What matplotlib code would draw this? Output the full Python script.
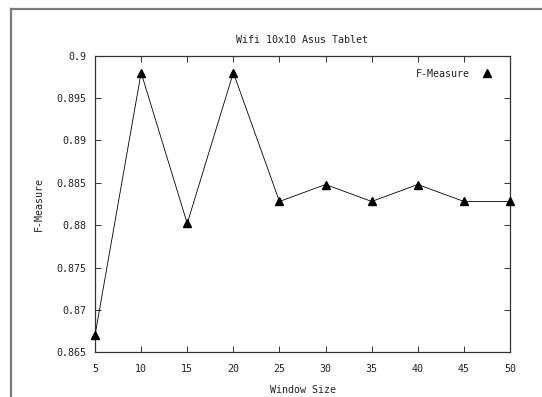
import matplotlib
matplotlib.use("Agg")
import matplotlib.pyplot as plt
from matplotlib.lines import Line2D

window_size = [5, 10, 15, 20, 25, 30, 35, 40, 45, 50]
f_measure = [0.867, 0.898, 0.8802, 0.898, 0.8828, 0.8848, 0.8828, 0.8848, 0.8828, 0.8828]
y_ticks = [0.865, 0.87, 0.875, 0.88, 0.885, 0.89, 0.895, 0.9]
y_tick_labels = ["0.865", "0.87", "0.875", "0.88", "0.885", "0.89", "0.895", "0.9"]
x_ticks = [5, 10, 15, 20, 25, 30, 35, 40, 45, 50]

plt.rcParams['font.family'] = ['DejaVu Sans Mono']
FS = 7.2
TXT = '#222222'

W, H = 542, 397
fig = plt.figure(figsize=(W / 100, H / 100), dpi=100)

# outer window frame (left and top edges)
fig.add_artist(Line2D([11 / W, 11 / W], [0, 1 - 9 / H], transform=fig.transFigure,
                      color='#7a7a7a', lw=1.6))
fig.add_artist(Line2D([11 / W, 1], [1 - 9 / H, 1 - 9 / H], transform=fig.transFigure,
                      color='#7a7a7a', lw=1.6))

ax = fig.add_axes([95 / W, 1 - 352.3 / H, (510 - 95) / W, (352.3 - 55.7) / H])
ax.plot(window_size, f_measure, color='black', lw=0.6, marker='^', markersize=6,
        markerfacecolor='black', markeredgecolor='black', clip_on=False, zorder=3)

ax.set_xlim(5, 50)
ax.set_ylim(0.865, 0.9)
ax.set_xticks(x_ticks)
ax.set_xticklabels([str(v) for v in x_ticks])
ax.set_yticks(y_ticks)
ax.set_yticklabels(y_tick_labels)
ax.tick_params(direction='in', length=4, width=0.7, top=True, right=True,
               labelsize=FS, labelcolor=TXT, color='#333333')
ax.tick_params(axis='x', pad=8.5)
ax.tick_params(axis='y', pad=6)
for s in ax.spines.values():
    s.set_color('#333333')
    s.set_linewidth(0.9)

ax.set_title('Wifi 10x10 Asus Tablet', fontsize=FS, color=TXT, pad=9)
ax.set_xlabel('Window Size', fontsize=FS, color=TXT, labelpad=8)
ax.set_ylabel('F-Measure', fontsize=FS, color=TXT, labelpad=9)

proxy = Line2D([], [], color='black', marker='^', markersize=6, linestyle='none')
leg = ax.legend([proxy], ['F-Measure'], loc='upper right', markerfirst=False,
                frameon=False, fontsize=FS, handlelength=1.0, handletextpad=1.2,
                bbox_to_anchor=(0.975, 0.983), borderaxespad=0.4)
for t in leg.get_texts():
    t.set_color(TXT)

fig.savefig('out.png', dpi=100, facecolor='white')
